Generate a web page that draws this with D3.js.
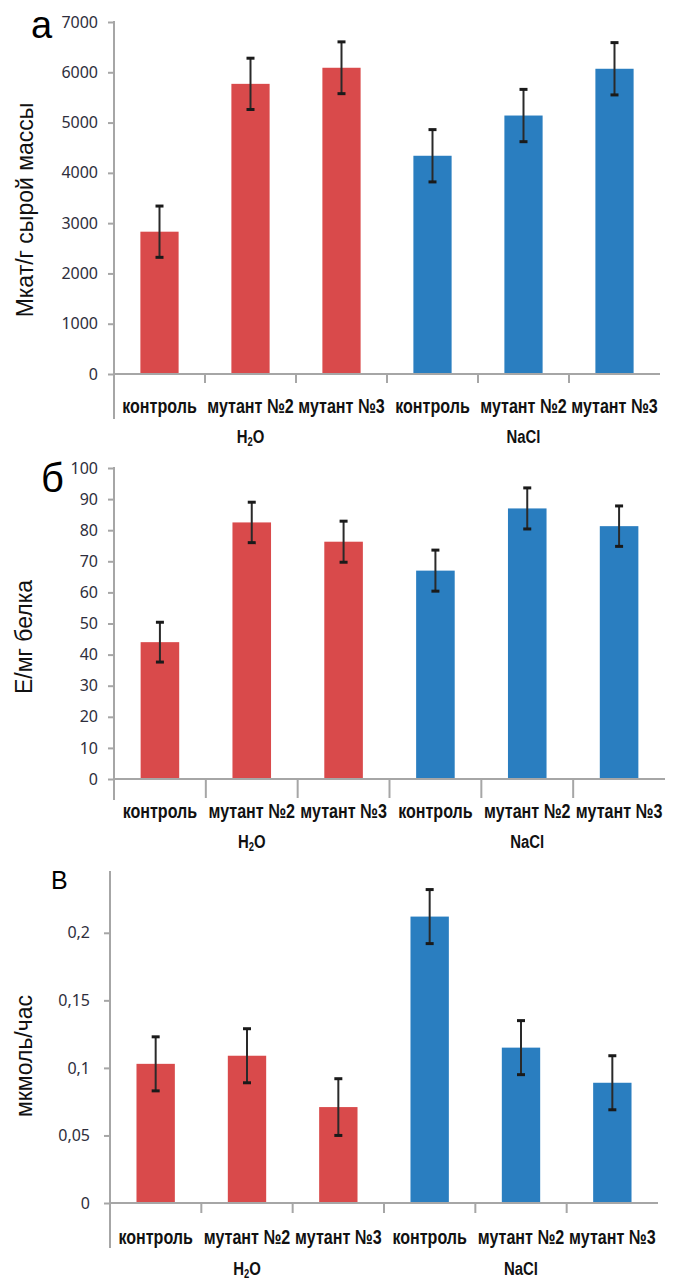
<!DOCTYPE html>
<html>
<head>
<meta charset="utf-8">
<script src="https://cdn.jsdelivr.net/npm/d3@7"></script>
<style>
  html, body { margin: 0; padding: 0; background: #fff; }
  .tick text { font-family: "Noto Sans", "DejaVu Sans", sans-serif; font-size: 16px; fill: #2e2e3c; }
  .tick line { stroke: #a6a6a6; stroke-width: 2; }
  .cat-label, .group-label { font-family: "Liberation Sans", Arial, sans-serif; font-weight: bold; fill: #111; }
  .y-title { font-family: "Liberation Sans", Arial, sans-serif; font-size: 23px; fill: #111; }
  .panel-letter { font-family: "Liberation Sans", Arial, sans-serif; fill: #000; }
</style>
</head>
<body>
<div id="chart"></div>
<script>
// data
const categories = ["контроль", "мутант №2", "мутант №3", "контроль ", "мутант №2 ", "мутант №3 "];
const groups = ["H2O", "NaCl"];
const groupOf = [0, 0, 0, 1, 1, 1];
const colors = ["#d94a4b", "#2a7ec0"];

const valuesA = [2830, 5770, 6090, 4340, 5140, 6070];
const errorsA = [510, 510, 515, 520, 520, 520];
const ticksA = [0, 1000, 2000, 3000, 4000, 5000, 6000, 7000];

const valuesB = [44, 82.5, 76.3, 67, 87, 81.3];
const errorsB = [6.4, 6.5, 6.6, 6.6, 6.6, 6.5];
const ticksB = [0, 10, 20, 30, 40, 50, 60, 70, 80, 90, 100];

const valuesC = [0.103, 0.109, 0.071, 0.212, 0.115, 0.089];
const errorsC = [0.02, 0.02, 0.021, 0.02, 0.02, 0.02];
const ticksC = [0, 0.05, 0.1, 0.15, 0.2];

const panels = [
  {letter: "а", title: "Мкат/г сырой массы", values: valuesA, errors: errorsA, ticks: ticksA, max: 7000,
   left: 114, right: 660, zero: 374, top: 22, axisBottom: 419, sepTick: 9, tickPad: 10,
   catBase: 413, groupBase: 443, letterX: 31, letterY: 38, letterSize: 38, titleX: 33, titleY: 210, fmt: d3.format("d")},
  {letter: "б", title: "Е/мг белка", values: valuesB, errors: errorsB, ticks: ticksB, max: 100,
   left: 114, right: 665, zero: 779, top: 468, axisBottom: 800, sepTick: 19, tickPad: 10,
   catBase: 818, groupBase: 848, letterX: 41, letterY: 492, letterSize: 40, titleX: 32, titleY: 637, fmt: d3.format("d")},
  {letter: "В", title: "мкмоль/час", values: valuesC, errors: errorsC, ticks: ticksC, max: 0.245,
   left: 110, right: 658, zero: 1203, top: 872, axisBottom: 1248, sepTick: 10, tickPad: 14,
   catBase: 1244, groupBase: 1275, letterX: 51, letterY: 889, letterSize: 25, titleX: 32, titleY: 1056,
   fmt: d => String(d).replace(".", ",")}
];

// narrow bold look for axis labels
const squeeze = 0.785;

const svg = d3.select("#chart").append("svg")
  .attr("width", 676)
  .attr("height", 1281);

panels.forEach(p => render(p));

function render(p) {
  const g = svg.append("g");

  const x = d3.scaleBand()
    .domain(categories)
    .range([p.left, p.right])
    .paddingInner(0.58)
    .paddingOuter(0.29);
  const y = d3.scaleLinear()
    .domain([0, p.max])
    .range([p.zero, p.top]);
  const step = x.step();

  // y axis
  const yAxis = g.append("g")
    .attr("transform", `translate(${p.left},0)`)
    .call(d3.axisLeft(y).tickValues(p.ticks).tickSize(6).tickPadding(p.tickPad).tickFormat(p.fmt));
  yAxis.select(".domain").remove();

  g.append("line")
    .attr("x1", p.left).attr("x2", p.left)
    .attr("y1", y(p.max) - 1).attr("y2", p.axisBottom)
    .attr("stroke", "#a6a6a6").attr("stroke-width", 2);

  // bars
  g.selectAll(".bar").data(p.values)
    .enter().append("rect")
    .attr("class", "bar")
    .attr("x", (d, i) => x(categories[i]))
    .attr("y", d => y(d))
    .attr("width", x.bandwidth())
    .attr("height", d => y(0) - y(d))
    .attr("fill", (d, i) => colors[groupOf[i]]);

  // x axis line + category separators
  g.append("line")
    .attr("x1", p.left).attr("x2", p.right)
    .attr("y1", y(0)).attr("y2", y(0))
    .attr("stroke", "#a6a6a6").attr("stroke-width", 2);

  g.selectAll(".sep").data(categories.slice(1))
    .enter().append("line")
    .attr("class", "sep")
    .attr("x1", d => x(d) - step * 0.29).attr("x2", d => x(d) - step * 0.29)
    .attr("y1", y(0)).attr("y2", y(0) + p.sepTick)
    .attr("stroke", "#a6a6a6").attr("stroke-width", 2);

  // error bars
  const eb = g.selectAll(".err").data(p.values)
    .enter().append("g").attr("class", "err")
    .attr("transform", (d, i) => `translate(${x(categories[i]) + x.bandwidth() / 2},0)`);
  eb.append("line")
    .attr("y1", (d, i) => y(d + p.errors[i]))
    .attr("y2", (d, i) => y(d - p.errors[i]))
    .attr("stroke", "#2a2a2a").attr("stroke-width", 2);
  eb.append("line")
    .attr("x1", -4).attr("x2", 4)
    .attr("y1", (d, i) => y(d + p.errors[i])).attr("y2", (d, i) => y(d + p.errors[i]))
    .attr("stroke", "#1a1a1a").attr("stroke-width", 3);
  eb.append("line")
    .attr("x1", -4).attr("x2", 4)
    .attr("y1", (d, i) => y(d - p.errors[i])).attr("y2", (d, i) => y(d - p.errors[i]))
    .attr("stroke", "#1a1a1a").attr("stroke-width", 3);

  // category labels
  g.selectAll(".cat-label").data(categories)
    .enter().append("text")
    .attr("class", "cat-label")
    .attr("transform", d => `translate(${x(d) + x.bandwidth() / 2},${p.catBase}) scale(${squeeze},1)`)
    .attr("text-anchor", "middle")
    .attr("font-size", 20.5)
    .text(d => d.trim());

  // group labels
  groups.forEach((gr, k) => {
    const mid = categories[k * 3 + 1];
    const t = g.append("text")
      .attr("class", "group-label")
      .attr("transform", `translate(${x(mid) + x.bandwidth() / 2},${p.groupBase}) scale(${squeeze},1)`)
      .attr("text-anchor", "middle")
      .attr("font-size", 19);
    if (gr === "H2O") {
      t.append("tspan").text("H");
      t.append("tspan").attr("font-size", 12).attr("dy", 3).text("2");
      t.append("tspan").attr("dy", -3).text("O");
    } else {
      t.text(gr);
    }
  });

  // y title
  g.append("text")
    .attr("class", "y-title")
    .attr("transform", `translate(${p.titleX},${p.titleY}) rotate(-90)`)
    .attr("text-anchor", "middle")
    .text(p.title);

  // panel letter
  g.append("text")
    .attr("class", "panel-letter")
    .attr("x", p.letterX)
    .attr("y", p.letterY)
    .attr("font-size", p.letterSize)
    .text(p.letter);
}
</script>
</body>
</html>
